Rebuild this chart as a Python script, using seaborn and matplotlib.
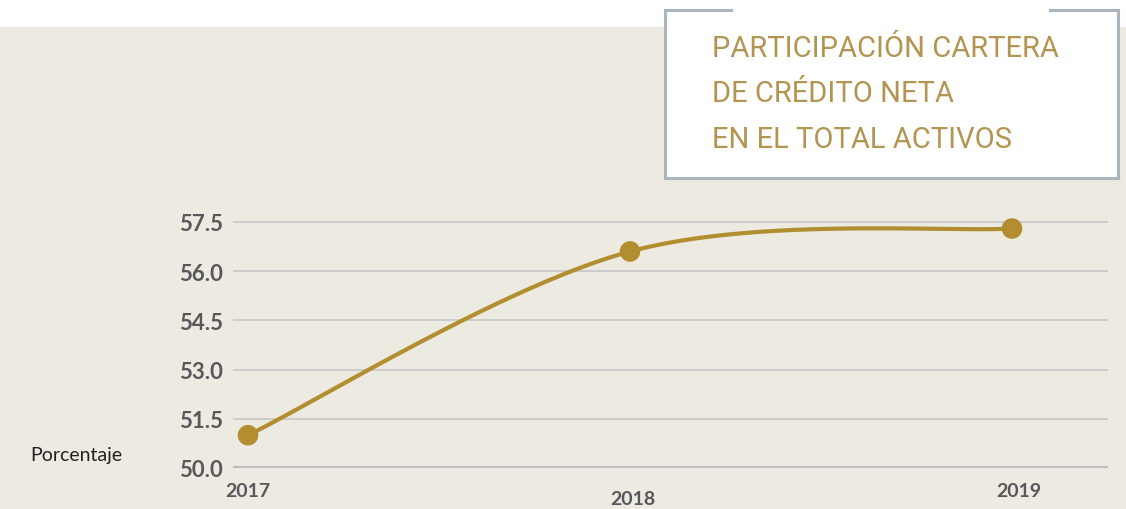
import numpy as np
import pandas as pd
import matplotlib
matplotlib.use("Agg")
import matplotlib.pyplot as plt
import matplotlib.transforms as mtransforms
from matplotlib.patches import Rectangle
from matplotlib.lines import Line2D
import seaborn as sns

# ---- data ----
years = ["2017", "2018", "2019"]
values = [51.0, 56.6, 57.3]
y_ticks = [50.0, 51.5, 53.0, 54.5, 56.0, 57.5]
title_lines = ["PARTICIPACIÓN CARTERA", "DE CRÉDITO NETA", "EN EL TOTAL ACTIVOS"]
y_label = "Porcentaje"

BG = "#EDEAE2"
GOLD = "#B38E30"
TITLE_GOLD = "#B39552"
GRID = "#C9C9CB"
TICK = "#58585A"
BORDER = "#A9B6BF"

sns.set_theme(style="white")
plt.rcParams["font.family"] = ["Lato", "DejaVu Sans"]

W, H = 1126, 510
fig = plt.figure(figsize=(W / 100, H / 100), dpi=100)
fig.patch.set_facecolor(BG)

# white strip at the top
fig.patches.append(Rectangle((0, 1 - 28 / H), 1, 28 / H, transform=fig.transFigure,
                             facecolor="white", edgecolor="none", zorder=0))

ax = fig.add_axes([233 / W, 41 / H, 875 / W, 269 / H])
ax.set_facecolor(BG)

x = np.arange(len(years))
df = pd.DataFrame({"x": x, "value": values})

# smoothed line (Catmull-Rom / Bezier smoothing through the data points)
def smooth_curve(xs, ys, n=80):
    P = np.column_stack([np.asarray(xs, float), np.asarray(ys, float)])
    Pext = np.vstack([P[0], P, P[-1]])
    t = np.linspace(0, 1, n)[:, None]
    segs = []
    for i in range(len(P) - 1):
        p0, p3 = P[i], P[i + 1]
        c1 = p0 + (Pext[i + 2] - Pext[i]) / 6
        c2 = p3 - (Pext[i + 3] - Pext[i + 1]) / 6
        seg = (1 - t) ** 3 * p0 + 3 * (1 - t) ** 2 * t * c1 + 3 * (1 - t) * t ** 2 * c2 + t ** 3 * p3
        segs.append(seg)
    C = np.vstack(segs)
    return C[:, 0], C[:, 1]

xx, yy = smooth_curve(x, values)
sns.lineplot(x=xx, y=yy, ax=ax, color=GOLD, linewidth=3.0, zorder=3, sort=False)
sns.scatterplot(data=df, x="x", y="value", ax=ax, color=GOLD, s=220,
                edgecolor="none", zorder=4)

# grid lines
for t in y_ticks[1:]:
    ax.axhline(t, color=GRID, linewidth=1.3, zorder=1)
ax.axhline(y_ticks[0], color="#BDBEC2", linewidth=3.0, zorder=2)

ax.set_ylim(50.0, 58.2)
ax.set_xlim(-0.0393, 2.2513)
ax.set_yticks(y_ticks)
ax.set_yticklabels([f"{v:.1f}" for v in y_ticks])
ax.set_xticks(x)
ax.set_xticklabels(years)
ax.tick_params(axis="y", length=0, pad=7, labelsize=16, labelcolor=TICK)
ax.tick_params(axis="x", length=0, pad=10, labelsize=14, labelcolor=TICK)
for lab in ax.get_yticklabels() + ax.get_xticklabels():
    lab.set_fontweight("bold")
for s in ax.spines.values():
    s.set_visible(False)
ax.set_xlabel(""); ax.set_ylabel("")

# individual offsets for year labels
xl = ax.get_xticklabels()
offsets = [(0, 0), (3, -8), (7, 0)]
for lab, (dx, dy) in zip(xl, offsets):
    lab.set_transform(lab.get_transform() + mtransforms.ScaledTranslation(dx / 100, dy / 100, fig.dpi_scale_trans))

fig.text(30 / W, 1 - 456 / H, y_label, fontsize=14, color="#222222", va="center", ha="left")

# title box
bx0, bx1, by0, by1 = 665, 1118, 11, 179
fig.patches.append(Rectangle((bx0 / W, 1 - by1 / H), (bx1 - bx0) / W, (by1 - by0) / H,
                             transform=fig.transFigure, facecolor="white", edgecolor="none", zorder=5))
def fl(xs, ys):
    fig.lines.append(Line2D([v / W for v in xs], [1 - v / H for v in ys], transform=fig.transFigure,
                            color=BORDER, linewidth=2.2, zorder=6, solid_capstyle="projecting"))
fl([bx0, bx0], [by0, by1])
fl([bx1, bx1], [by0, by1])
fl([bx0, bx1], [by1, by1])
fl([bx0, 731], [by0, by0])
fl([1050, bx1], [by0, by0])

for i, line in enumerate(title_lines):
    fig.text(712 / W, 1 - (57 + 45.5 * i) / H, line, fontsize=21, color=TITLE_GOLD,
             family=["Liberation Sans Narrow", "Roboto", "DejaVu Sans"], fontweight="normal",
             va="baseline", ha="left", zorder=7)

fig.savefig("out.png", dpi=100, facecolor=BG)
